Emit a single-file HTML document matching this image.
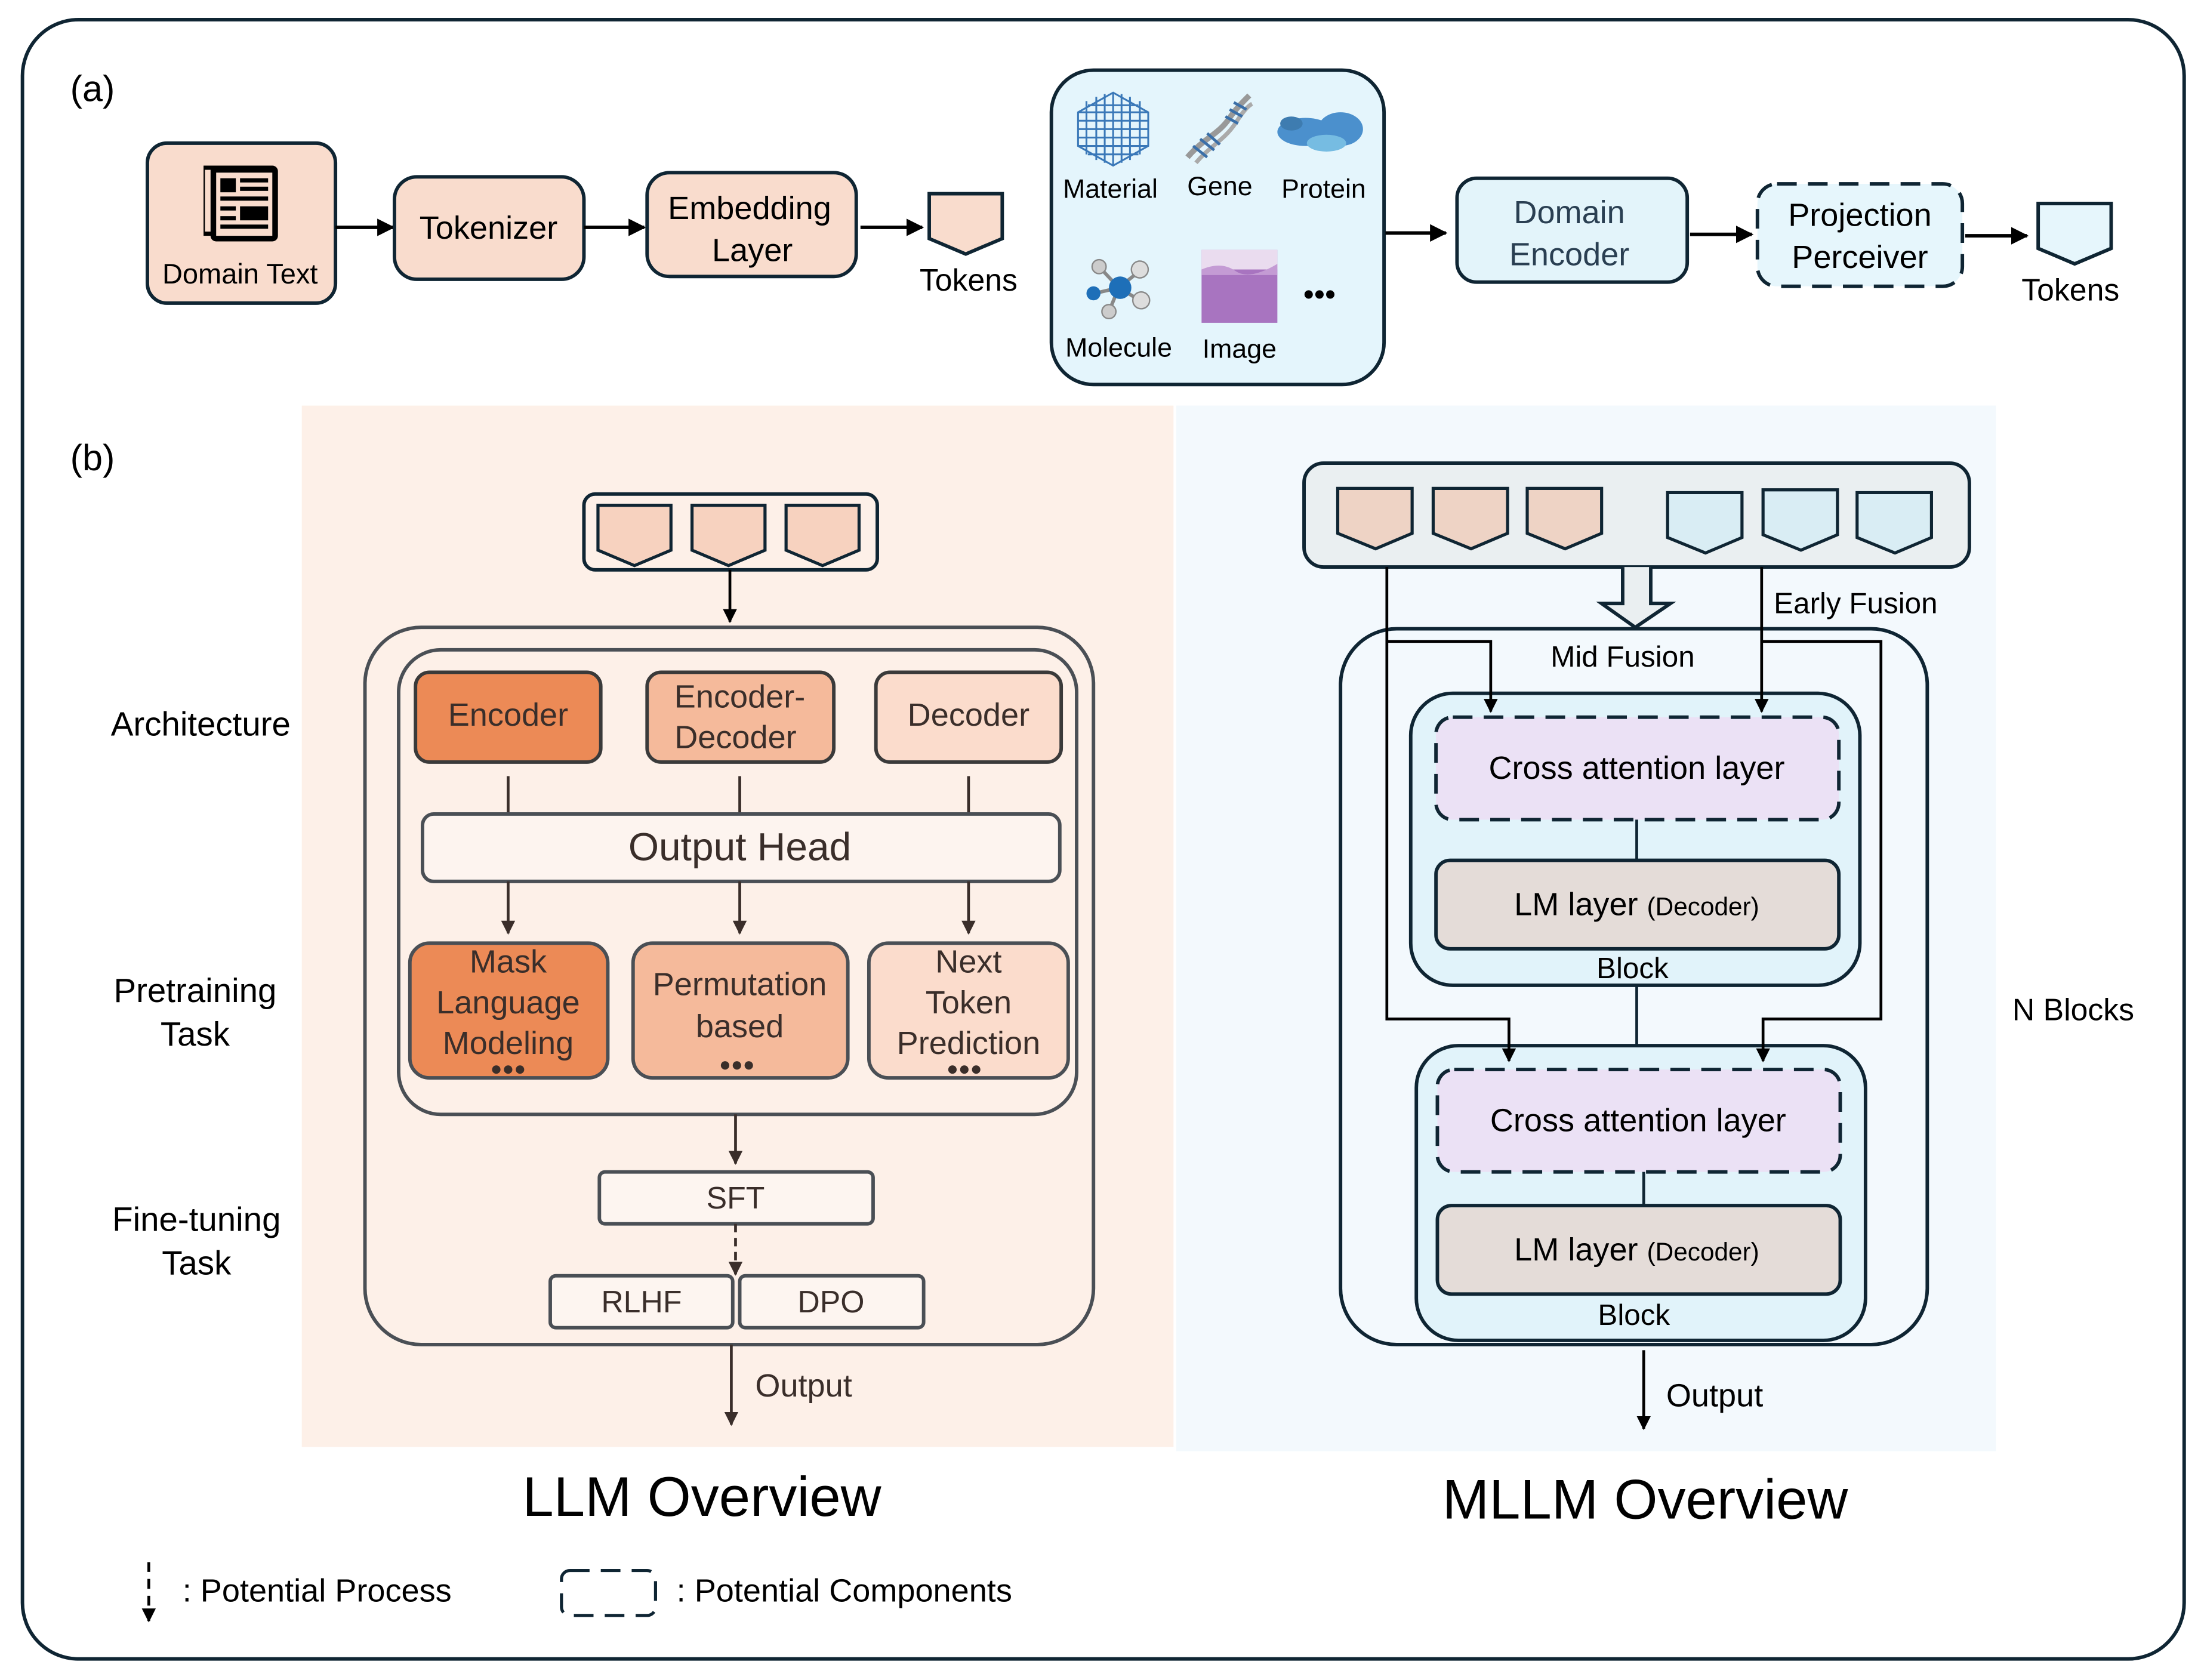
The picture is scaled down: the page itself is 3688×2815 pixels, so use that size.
<!DOCTYPE html>
<html><head><meta charset="utf-8"><style>
html,body{margin:0;padding:0;background:#fff;}
svg{display:block;}
text{font-family:"Liberation Sans",sans-serif;}
</style></head><body>
<svg width="3688" height="2815" viewBox="0 0 1568 1197" preserveAspectRatio="none" xmlns="http://www.w3.org/2000/svg">
<defs>
<marker id="ah" viewBox="0 0 10 10" refX="9" refY="5" markerWidth="5" markerHeight="5" orient="auto"><path d="M0,0 L10,5 L0,10 z" fill="#000"/></marker>
<marker id="ahb" viewBox="0 0 10 10" refX="9" refY="5" markerWidth="5" markerHeight="5" orient="auto"><path d="M0,0 L10,5 L0,10 z" fill="#3a2e2a"/></marker>
</defs>
<rect x="0" y="0" width="1568" height="1197" fill="#fff"/>
<rect x="16" y="14" width="1540" height="1168" rx="40" fill="none" stroke="#0f2533" stroke-width="2.5"/>

<!-- (a) -->
<text x="50" y="72" font-size="26">(a)</text>
<rect x="105" y="102" width="134" height="114" rx="14" fill="#f9dccd" stroke="#0f2533" stroke-width="2.5"/>
<g fill="#000">
<rect x="145" y="118" width="15" height="50"/><rect x="150" y="118" width="48" height="54" rx="4"/>
<rect x="154" y="123" width="40" height="45" fill="#f9dccd"/>
<rect x="157" y="127" width="11" height="10"/><rect x="171" y="127" width="20" height="3"/><rect x="171" y="133" width="20" height="3"/>
<rect x="157" y="140" width="34" height="3"/><rect x="157" y="147" width="11" height="3"/><rect x="171" y="147" width="20" height="10"/><rect x="157" y="154" width="11" height="3"/><rect x="157" y="160" width="34" height="3"/>
</g>
<rect x="146" y="121" width="4" height="44" fill="#f9dccd"/>
<text x="171" y="202" font-size="20" text-anchor="middle">Domain Text</text>
<line x1="239" y1="162" x2="280" y2="162" stroke="#000" stroke-width="2.5" marker-end="url(#ah)"/>
<rect x="281" y="126" width="135" height="73" rx="16" fill="#f9dccd" stroke="#0f2533" stroke-width="2.5"/>
<text x="348" y="170" font-size="23" text-anchor="middle">Tokenizer</text>
<line x1="416" y1="162" x2="459" y2="162" stroke="#000" stroke-width="2.5" marker-end="url(#ah)"/>
<rect x="461" y="123" width="149" height="74" rx="16" fill="#f9dccd" stroke="#0f2533" stroke-width="2.5"/>
<text x="534" y="156" font-size="23" text-anchor="middle">Embedding</text>
<text x="536" y="186" font-size="23" text-anchor="middle">Layer</text>
<line x1="613" y1="162" x2="657" y2="162" stroke="#000" stroke-width="2.5" marker-end="url(#ah)"/>
<path d="M662,138 L714,138 L714,170 L688,181 L662,170 Z" fill="#f9dccd" stroke="#0f2533" stroke-width="2.5"/>
<text x="690" y="207" font-size="22" text-anchor="middle">Tokens</text>

<rect x="749" y="50" width="237" height="224" rx="30" fill="#e4f5fc" stroke="#0f2533" stroke-width="2.5"/>
<!-- material -->
<g stroke="#3a78b8" stroke-width="1.3" fill="none">
<path d="M793,66 L818,80 L818,104 L793,118 L768,104 L768,80 Z"/>
<path d="M774,72 V110 M781,69 V114 M787,67 V116 M793,66 V118 M799,67 V116 M805,69 V114 M812,72 V110 M768,80 H818 M768,86 H818 M768,92 H818 M768,98 H818 M768,104 H818 M775,75 H811 M775,110 H811"/>
</g>
<!-- DNA -->
<path d="M846,112 C858,98 868,96 876,84 C880,78 886,72 890,68" stroke="#999" stroke-width="4" fill="none"/>
<path d="M852,116 C862,104 872,100 880,88 C884,82 888,76 892,74" stroke="#aaa" stroke-width="3" fill="none"/>
<g stroke="#3a6fa8" stroke-width="2"><line x1="850" y1="104" x2="860" y2="112"/><line x1="855" y1="99" x2="865" y2="107"/><line x1="860" y1="95" x2="869" y2="103"/><line x1="873" y1="83" x2="882" y2="88"/><line x1="876" y1="78" x2="885" y2="83"/><line x1="879" y1="73" x2="888" y2="78"/></g>
<!-- protein -->
<g fill="#3b86c9" opacity="0.9">
<ellipse cx="930" cy="94" rx="20" ry="10"/><ellipse cx="955" cy="92" rx="16" ry="12"/><ellipse cx="945" cy="102" rx="14" ry="6" fill="#6bb6e0"/><ellipse cx="920" cy="88" rx="8" ry="5" fill="#2d6fa8"/>
</g>
<!-- molecule -->
<g stroke="#888" stroke-width="2.5"><line x1="797" y1="205" x2="783" y2="190"/><line x1="797" y1="205" x2="812" y2="193"/><line x1="797" y1="205" x2="780" y2="209"/><line x1="797" y1="205" x2="812" y2="214"/><line x1="797" y1="205" x2="790" y2="222"/></g>
<circle cx="783" cy="190" r="5" fill="#ccc" stroke="#888"/><circle cx="812" cy="192" r="6" fill="#ddd" stroke="#888"/><circle cx="813" cy="214" r="6" fill="#ddd" stroke="#888"/><circle cx="790" cy="222" r="5" fill="#ccc" stroke="#888"/>
<circle cx="779" cy="209" r="5" fill="#1e6fb8"/><circle cx="798" cy="205" r="8" fill="#1e6fb8"/>
<!-- image -->
<rect x="856" y="178" width="54" height="52" fill="#a874c0"/>
<rect x="856" y="178" width="54" height="14" fill="#eadcef"/>
<path d="M856,192 Q870,186 880,193 T910,188 V196 H856 Z" fill="#c49bd4"/>
<text x="940" y="217" font-size="22" text-anchor="middle">•••</text>
<text x="791" y="141" font-size="19" text-anchor="middle">Material</text>
<text x="869" y="139" font-size="19" text-anchor="middle">Gene</text>
<text x="943" y="141" font-size="19" text-anchor="middle">Protein</text>
<text x="797" y="254" font-size="19" text-anchor="middle">Molecule</text>
<text x="883" y="255" font-size="19" text-anchor="middle">Image</text>

<line x1="987" y1="166" x2="1030" y2="166" stroke="#000" stroke-width="2.5" marker-end="url(#ah)"/>
<rect x="1038" y="127" width="164" height="74" rx="14" fill="#e3f4fa" stroke="#0f2533" stroke-width="2.5"/>
<text x="1118" y="159" font-size="23" text-anchor="middle" fill="#2a3f52">Domain</text>
<text x="1118" y="189" font-size="23" text-anchor="middle" fill="#2a3f52">Encoder</text>
<line x1="1204" y1="167" x2="1248" y2="167" stroke="#000" stroke-width="2.5" marker-end="url(#ah)"/>
<rect x="1252" y="131" width="146" height="73" rx="14" fill="#e6f6fc" stroke="#0f2533" stroke-width="2.5" stroke-dasharray="14,8"/>
<text x="1325" y="161" font-size="23" text-anchor="middle">Projection</text>
<text x="1325" y="191" font-size="23" text-anchor="middle">Perceiver</text>
<line x1="1400" y1="168" x2="1444" y2="168" stroke="#000" stroke-width="2.5" marker-end="url(#ah)"/>
<path d="M1452,145 L1504,145 L1504,177 L1478,188 L1452,177 Z" fill="#e6f6fc" stroke="#0f2533" stroke-width="2.5"/>
<text x="1475" y="214" font-size="22" text-anchor="middle">Tokens</text>

<!-- (b) -->
<rect x="215" y="289" width="621" height="742" fill="#fdf0e8"/>
<rect x="838" y="289" width="584" height="745" fill="#f3f9fd"/>
<text x="50" y="335" font-size="26">(b)</text>
<text x="143" y="524" font-size="24" text-anchor="middle">Architecture</text>
<text x="139" y="714" font-size="24" text-anchor="middle">Pretraining</text>
<text x="139" y="745" font-size="24" text-anchor="middle">Task</text>
<text x="140" y="877" font-size="24" text-anchor="middle">Fine-tuning</text>
<text x="140" y="908" font-size="24" text-anchor="middle">Task</text>

<rect x="416" y="352" width="209" height="54" rx="8" fill="#fdf0e8" stroke="#0f2533" stroke-width="2.5"/>
<g fill="#f7d2bf" stroke="#0f2533" stroke-width="2.2">
<path d="M426,360 L478,360 L478,392 L452,403 L426,392 Z"/>
<path d="M493,360 L545,360 L545,392 L519,403 L493,392 Z"/>
<path d="M560,360 L612,360 L612,392 L586,403 L560,392 Z"/>
</g>
<line x1="520" y1="406" x2="520" y2="443" stroke="#000" stroke-width="2" marker-end="url(#ah)"/>
<rect x="260" y="447" width="519" height="511" rx="40" fill="none" stroke="#4a4f55" stroke-width="2.5"/>
<rect x="284" y="463" width="483" height="331" rx="30" fill="none" stroke="#4a4f55" stroke-width="2.5"/>
<g stroke="#3a3a3a" stroke-width="2.5">
<rect x="296" y="479" width="132" height="64" rx="10" fill="#ec8a56"/>
<rect x="461" y="479" width="133" height="64" rx="10" fill="#f5ba9b"/>
<rect x="624" y="479" width="132" height="64" rx="10" fill="#fbdccc"/>
</g>
<g fill="#3a2e2a" font-size="23" text-anchor="middle">
<text x="362" y="517">Encoder</text>
<text x="527" y="504">Encoder-</text>
<text x="524" y="533">Decoder</text>
<text x="690" y="517">Decoder</text>
</g>
<g stroke="#3a2e2a" stroke-width="2"><line x1="362" y1="553" x2="362" y2="580"/><line x1="527" y1="553" x2="527" y2="580"/><line x1="690" y1="553" x2="690" y2="580"/></g>
<rect x="301" y="580" width="454" height="48" rx="8" fill="#fdf4ef" stroke="#4a4f55" stroke-width="2.5"/>
<text x="527" y="613" font-size="28" text-anchor="middle" fill="#3a2e2a">Output Head</text>
<g stroke="#3a2e2a" stroke-width="2"><line x1="362" y1="628" x2="362" y2="665" marker-end="url(#ahb)"/><line x1="527" y1="628" x2="527" y2="665" marker-end="url(#ahb)"/><line x1="690" y1="628" x2="690" y2="665" marker-end="url(#ahb)"/></g>
<g stroke="#4a4f55" stroke-width="2.5">
<rect x="292" y="672" width="141" height="96" rx="14" fill="#ec8a56"/>
<rect x="451" y="672" width="153" height="96" rx="14" fill="#f5ba9b"/>
<rect x="619" y="672" width="142" height="96" rx="14" fill="#fbdccc"/>
</g>
<g fill="#3a2e2a" font-size="23" text-anchor="middle">
<text x="362" y="693">Mask</text><text x="362" y="722">Language</text><text x="362" y="751">Modeling</text><text x="362" y="766" font-size="14">●●●</text>
<text x="527" y="709">Permutation</text><text x="527" y="739">based</text><text x="525" y="763" font-size="14">●●●</text>
<text x="690" y="693">Next</text><text x="690" y="722">Token</text><text x="690" y="751">Prediction</text><text x="687" y="766" font-size="14">●●●</text>
</g>
<line x1="524" y1="794" x2="524" y2="829" stroke="#3a2e2a" stroke-width="2" marker-end="url(#ahb)"/>
<rect x="427" y="835" width="195" height="37" rx="4" fill="#fdf5f0" stroke="#4a4f55" stroke-width="2.5"/>
<text x="524" y="861" font-size="22" text-anchor="middle" fill="#3a2e2a">SFT</text>
<line x1="524" y1="872" x2="524" y2="908" stroke="#3a2e2a" stroke-width="2" stroke-dasharray="6,4" marker-end="url(#ahb)"/>
<rect x="392" y="909" width="130" height="37" rx="4" fill="#fdf5f0" stroke="#4a4f55" stroke-width="2.5"/>
<rect x="527" y="909" width="131" height="37" rx="4" fill="#fdf5f0" stroke="#4a4f55" stroke-width="2.5"/>
<text x="457" y="935" font-size="22" text-anchor="middle" fill="#3a2e2a">RLHF</text>
<text x="592" y="935" font-size="22" text-anchor="middle" fill="#3a2e2a">DPO</text>
<line x1="521" y1="958" x2="521" y2="1015" stroke="#3a2e2a" stroke-width="2" marker-end="url(#ahb)"/>
<text x="538" y="995" font-size="23" fill="#3a2e2a">Output</text>
<text x="500" y="1080" font-size="40" text-anchor="middle">LLM Overview</text>

<!-- MLLM -->
<rect x="929" y="330" width="474" height="74" rx="14" fill="#eaeff1" stroke="#0f2533" stroke-width="2.5"/>
<g fill="#eed3c5" stroke="#0f2533" stroke-width="2.2">
<path d="M953,348 L1006,348 L1006,380 L980,391 L953,380 Z"/>
<path d="M1021,348 L1074,348 L1074,380 L1048,391 L1021,380 Z"/>
<path d="M1088,348 L1141,348 L1141,380 L1115,391 L1088,380 Z"/>
</g>
<g fill="#d9edf4" stroke="#0f2533" stroke-width="2.2">
<path d="M1188,351 L1241,351 L1241,383 L1215,394 L1188,383 Z"/>
<path d="M1256,349 L1309,349 L1309,381 L1283,392 L1256,381 Z"/>
<path d="M1323,351 L1376,351 L1376,383 L1350,394 L1323,383 Z"/>
</g>
<rect x="955" y="448" width="418" height="510" rx="40" fill="none" stroke="#0f2533" stroke-width="2.5"/>
<path d="M1156,404 L1156,430 L1141,430 L1165,447 L1190,430 L1176,430 L1176,404" fill="#eaeff1" stroke="#0f2533" stroke-width="2.5"/>
<text x="1322" y="437" font-size="21" text-anchor="middle">Early Fusion</text>
<text x="1156" y="475" font-size="21" text-anchor="middle">Mid Fusion</text>
<rect x="1005" y="494" width="320" height="208" rx="30" fill="#e1f3fa" stroke="#0f2533" stroke-width="2.5"/>
<rect x="1023" y="511" width="287" height="73" rx="12" fill="#ebe1f5" stroke="#0f2533" stroke-width="2.5" stroke-dasharray="14,8"/>
<text x="1166" y="555" font-size="23" text-anchor="middle">Cross attention layer</text>
<line x1="1166" y1="584" x2="1166" y2="613" stroke="#0f2533" stroke-width="2"/>
<rect x="1023" y="613" width="287" height="63" rx="10" fill="#e4dcd8" stroke="#0f2533" stroke-width="2.5"/>
<text x="1166" y="652" font-size="23" text-anchor="middle">LM layer <tspan font-size="18">(Decoder)</tspan></text>
<text x="1163" y="697" font-size="21" text-anchor="middle">Block</text>
<line x1="1166" y1="702" x2="1166" y2="745" stroke="#0f2533" stroke-width="2"/>
<rect x="1009" y="745" width="320" height="210" rx="30" fill="#e1f3fa" stroke="#0f2533" stroke-width="2.5"/>
<rect x="1024" y="762" width="287" height="73" rx="12" fill="#ebe1f5" stroke="#0f2533" stroke-width="2.5" stroke-dasharray="14,8"/>
<text x="1167" y="806" font-size="23" text-anchor="middle">Cross attention layer</text>
<line x1="1171" y1="835" x2="1171" y2="859" stroke="#0f2533" stroke-width="2"/>
<rect x="1024" y="859" width="287" height="63" rx="10" fill="#e4dcd8" stroke="#0f2533" stroke-width="2.5"/>
<text x="1166" y="898" font-size="23" text-anchor="middle">LM layer <tspan font-size="18">(Decoder)</tspan></text>
<text x="1164" y="944" font-size="21" text-anchor="middle">Block</text>
<g stroke="#000" stroke-width="2" fill="none">
<polyline points="988,404 988,726 1075,726 1075,756" marker-end="url(#ah)"/>
<polyline points="988,457 1062,457 1062,507" marker-end="url(#ah)"/>
<line x1="1255" y1="404" x2="1255" y2="507" marker-end="url(#ah)"/>
<polyline points="1255,457 1340,457 1340,726 1256,726 1256,756" marker-end="url(#ah)"/>
</g>
<text x="1477" y="727" font-size="22" text-anchor="middle">N Blocks</text>
<line x1="1171" y1="962" x2="1171" y2="1018" stroke="#000" stroke-width="2" marker-end="url(#ah)"/>
<text x="1187" y="1002" font-size="23">Output</text>
<text x="1172" y="1082" font-size="40" text-anchor="middle">MLLM Overview</text>

<!-- legend -->
<line x1="106" y1="1113" x2="106" y2="1155" stroke="#000" stroke-width="2" stroke-dasharray="7,5" marker-end="url(#ah)"/>
<text x="130" y="1141" font-size="23">: Potential Process</text>
<rect x="400" y="1119" width="67" height="32" rx="6" fill="none" stroke="#0f2533" stroke-width="2.2" stroke-dasharray="14,8"/>
<text x="482" y="1141" font-size="23">: Potential Components</text>
</svg>
</body></html>
